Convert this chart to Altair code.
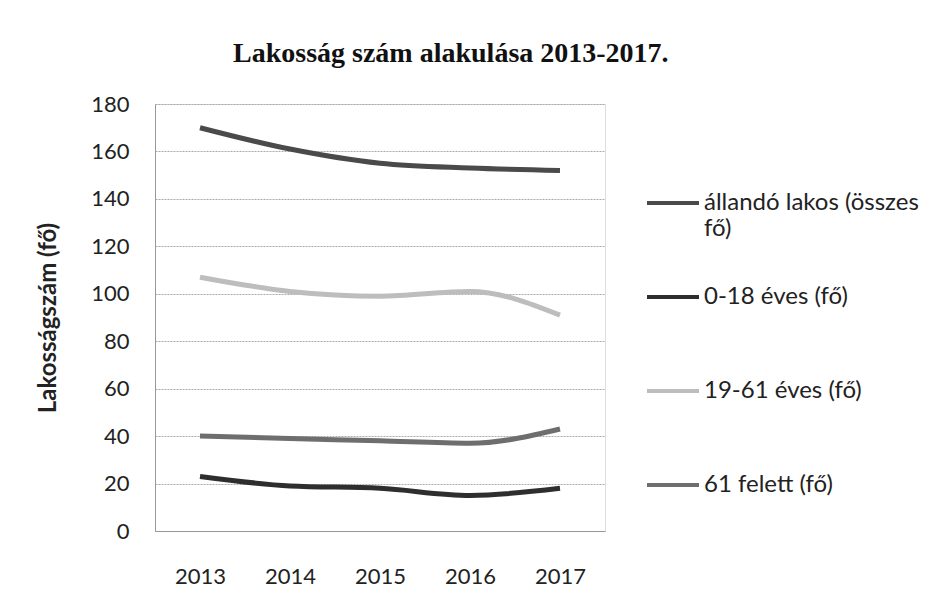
import altair as alt
import pandas as pd

years = ["2013", "2014", "2015", "2016", "2017"]
series_names = ["állandó lakos (összes fő)", "0-18 éves (fő)", "19-61 éves (fő)", "61 felett (fő)"]
allando = [170, 161, 155, 153, 152]
kor_0_18 = [23, 19, 18, 15, 18]
kor_19_61 = [107, 101, 99, 101, 91]
felett_61 = [40, 39, 38, 37, 43]
colors = ["#4a4a4a", "#2e2e2e", "#bdbdbd", "#6e6e6e"]

rows = []
for name, vals in zip(series_names, [allando, kor_0_18, kor_19_61, felett_61]):
    for y, v in zip(years, vals):
        rows.append({"Év": y, "Sorozat": name, "Érték": v})
df = pd.DataFrame(rows)

label_expr = ("datum.label == 'állandó lakos (összes fő)' ? "
              "['állandó lakos (összes', 'fő)'] : [datum.label, '']")

chart = alt.Chart(df).mark_line(strokeWidth=5, interpolate="monotone").encode(
    x=alt.X("Év:O", sort=years, title=None,
            scale=alt.Scale(paddingOuter=0.5),
            axis=alt.Axis(labelAngle=0, labelFont="Lato", labelFontSize=22,
                          labelColor="#222", labelPadding=35, ticks=False,
                          domainColor="#999", domainWidth=1)),
    y=alt.Y("Érték:Q", title="Lakosságszám (fő)",
            scale=alt.Scale(domain=[0, 180]),
            axis=alt.Axis(values=list(range(0, 181, 20)), labelFont="Lato",
                          labelFontSize=22, labelColor="#222", labelPadding=26,
                          ticks=False, domainColor="#999", grid=True,
                          gridColor="#aaa", gridDash=[2, 1], gridWidth=1,
                          titleFont="Lato", titleFontSize=24, titleFontWeight="bold",
                          titleColor="#222", titlePadding=30)),
    color=alt.Color("Sorozat:N", sort=series_names,
                    scale=alt.Scale(domain=series_names, range=colors),
                    legend=alt.Legend(title=None, orient="none", legendX=490, legendY=71,
                                      symbolType="stroke", symbolSize=2704,
                                      symbolStrokeWidth=4, labelFont="Lato",
                                      labelFontSize=24, labelColor="#222",
                                      labelExpr=label_expr, rowPadding=28,
                                      labelOffset=3, labelLimit=400)),
).properties(
    width=450, height=427,
    title=alt.TitleParams("Lakosság szám alakulása 2013-2017.", font="Liberation Serif",
                          fontSize=28, fontWeight="bold", color="#111",
                          anchor="start", frame="group", offset=25, dx=78),
).configure_view(stroke=None).configure(background="white", padding={"left": 28, "top": 32, "right": 5, "bottom": 5})

chart.save("out.html", embed_options={"renderer": "svg", "actions": False})
